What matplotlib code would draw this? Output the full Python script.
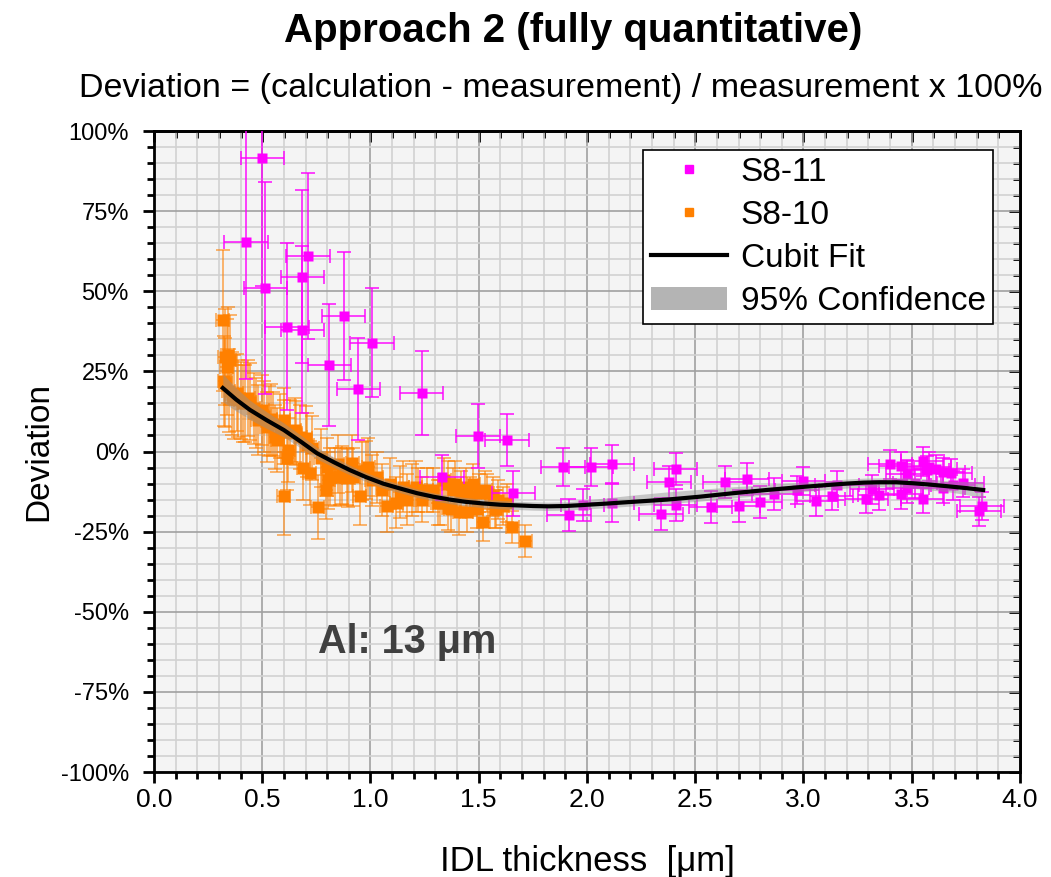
import numpy as np
import matplotlib
matplotlib.use('Agg')
import matplotlib.pyplot as plt
from matplotlib.ticker import MultipleLocator, FuncFormatter
from matplotlib.lines import Line2D
from matplotlib.patches import Patch

plt.rcParams['font.family'] = ['Liberation Sans', 'DejaVu Sans']

# S8-10 (orange): thickness [um], deviation [%], y error [%]
s10_x = [0.318, 0.325, 0.328, 0.336, 0.34, 0.35, 0.33, 0.345, 0.36, 0.37, 0.383, 0.39,
         0.40, 0.41, 0.42, 0.435, 0.443, 0.46, 0.47, 0.48, 0.50, 0.51, 0.52, 0.53,
         0.54, 0.55, 0.56, 0.57, 0.58, 0.60, 0.60, 0.615, 0.62, 0.60, 0.63, 0.65,
         0.655, 0.675, 0.69, 0.70, 0.707, 0.72, 0.73, 0.757, 0.77, 0.795, 0.80, 0.805,
         0.813, 0.836, 0.85, 0.86, 0.87, 0.89, 0.897, 0.915, 0.92, 0.95, 0.96, 0.98,
         0.99, 1.007, 1.03, 1.055, 1.076, 1.09, 1.12, 1.136, 1.15, 1.17, 1.19, 1.21,
         1.22, 1.24, 1.26, 1.29, 1.31, 1.32, 1.34, 1.36, 1.36, 1.37, 1.38, 1.39,
         1.41, 1.42, 1.44, 1.445, 1.46, 1.475, 1.49, 1.50, 1.52, 1.53, 1.54, 1.565,
         1.575, 1.58, 1.59, 1.61, 1.63, 1.655, 1.715]
s10_y = [41, 22, 29.6, 26.5, 30, 28.6, 21.5, 19, 18, 17, 18.3, 16.5,
         16, 15, 15, 16.7, 15.5, 13.5, 12, 9.8, 13, 11, 7.7, 9.5,
         10, 8.5, 4.5, 3.6, 8, 9.8, 6, -2, 0.5, -13.9, 6, 6.7,
         5.7, 4.5, -5.2, 4.2, 2, -6.7, 1, -17.3, -2, -12, -4.8, -9,
         -7.8, -8, -4, -7.8, -7.3, -7.8, -8.3, -3.7, -8, -14, -6, -5.8,
         -4.8, -9, -8, -12, -17, -10, -16, -12.6, -11, -15, -12, -11,
         -12, -15, -12, -12, -16, -16, -9, -10, -17.5, -18, -12, -10,
         -19, -13, -11, -19, -14, -10, -18, -13, -22, -12, -13, -14,
         -18, -18, -15, -17, -16, -23.6, -28]
s10_yerr = [22, 14, 15, 15, 15, 14, 14, 13, 13, 13, 12, 12,
            12, 12, 12, 12, 12, 11, 11, 11, 11, 11, 11, 11,
            11, 10, 10, 10, 10, 10, 10, 10, 10, 12, 10, 10,
            10, 10, 10, 10, 10, 10, 10, 10, 9, 9, 9, 9,
            9, 9, 9, 9, 9, 9, 9, 9, 9, 9, 9, 9,
            9, 8, 8, 8, 8, 8, 8, 8, 8, 8, 8, 8,
            7, 7, 7, 7, 7, 7, 7, 7, 7, 7, 7, 7,
            7, 7, 6, 6, 6, 6, 6, 6, 6, 6, 6, 6,
            6, 6, 6, 6, 6, 5, 5]
s10_xerr = 0.03

# S8-11 (magenta)
s11_x = [0.425, 0.50, 0.515, 0.615, 0.685, 0.712, 0.685, 0.81, 0.877, 0.944, 1.007,
         1.237, 1.33, 1.497, 1.63, 1.66, 1.889, 1.917, 1.98, 2.018, 2.116, 2.115,
         2.342, 2.379, 2.41, 2.41, 2.572, 2.638, 2.70, 2.739, 2.80, 2.864, 2.97,
         3.0, 3.06, 3.13, 3.155, 3.29, 3.316, 3.35, 3.40, 3.45, 3.45, 3.48, 3.48,
         3.515, 3.55, 3.55, 3.57, 3.58, 3.61, 3.645, 3.645, 3.68, 3.69, 3.735,
         3.81, 3.825]
s11_y = [65.5, 91.7, 51, 39, 54.5, 61, 38, 27, 42.3, 19.5, 34,
         18.3, -8, 4.8, 3.6, -13, -4.8, -19.8, -16.7, -4.9, -3.9, -16,
         -19.5, -9.5, -5.5, -16.7, -17.3, -9.5, -17, -8.6, -15.8, -13.3, -12,
         -9.2, -15.5, -13.9, -10.5, -14.8, -11.8, -13.6, -4, -4.5, -13.3, -7, -11.5,
         -9.9, -14.8, -3, -5.8, -4.8, -5.5, -6.4, -11.5, -6.8, -10.5, -9.8,
         -18.6, -17]
s11_yerr = [43, 40, 33, 26, 27, 26, 26, 19, 20, 16, 17,
            13, 7, 10, 8, 7, 6, 5, 5, 6, 6, 6,
            5, 5, 5, 5, 5, 5, 5, 5, 5, 5, 4.5,
            4.5, 4.5, 4.5, 4.5, 4.5, 4.5, 4.5, 4.5, 4.5, 4.5, 4.5, 4.5,
            4.5, 4.5, 4.5, 4.5, 4.5, 4.5, 4.5, 4.5, 4.5, 4.5, 4.5,
            4.5, 4.5]
s11_xerr = 0.1

# cubic fit curve and 95% confidence band
fit_x = [0.318, 0.38, 0.443, 0.52, 0.60, 0.68, 0.752, 0.83, 0.905, 0.98, 1.058,
         1.14, 1.215, 1.29, 1.367, 1.44, 1.52, 1.60, 1.676, 1.75, 1.82, 1.90,
         1.98, 2.10, 2.21, 2.37, 2.52, 2.675, 2.83, 2.985, 3.10, 3.2, 3.28,
         3.353, 3.43, 3.506, 3.58, 3.66, 3.75, 3.83]
fit_y = [19.8, 16.2, 13, 9.8, 6.7, 3, -0.5, -3.3, -5.8, -8, -10,
         -11.6, -13, -14.1, -15, -15.7, -16.2, -16.6, -16.8, -17.0, -17.1, -17.0,
         -16.7, -16.2, -15.7, -15, -14.1, -13, -12, -11.1, -10.5, -10, -9.7,
         -9.6, -9.6, -9.9, -10.3, -10.8, -11.4, -12]
band_lo = [15.5, 12.6, 10, 7.2, 4.5, 1, -2.3, -4.9, -7.3, -9.4, -11.4,
           -12.9, -14.3, -15.3, -16.3, -17, -17.5, -17.9, -18.1, -18.3, -18.4, -18.3,
           -18, -17.5, -17, -16.3, -15.5, -14.5, -13.5, -12.6, -11.9, -11.4, -11.1,
           -11, -11.1, -11.5, -12, -12.5, -13.4, -14.5]
band_hi = [24.2, 19.8, 16, 12.4, 8.9, 5, 1.3, -1.7, -4.3, -6.6, -8.6,
           -10.3, -11.7, -12.9, -13.7, -14.4, -14.9, -15.3, -15.5, -15.7, -15.8, -15.7,
           -15.2, -14.4, -13.6, -12.6, -11.8, -11, -10.3, -9.6, -9.1, -8.6, -8.3,
           -8.2, -8.1, -8.3, -8.6, -9.1, -9.4, -9.5]

fig = plt.figure(figsize=(10.51, 8.77), dpi=100)
ax = fig.add_axes([0.1465, 0.1197, 0.8240, 0.7309])
ax.set_facecolor('#f4f4f4')

ax.errorbar(s10_x, s10_y, yerr=s10_yerr, xerr=s10_xerr, fmt='none', ecolor='#ff8000',
            elinewidth=1.2, capsize=5, capthick=1.2, alpha=0.65, zorder=3)
ax.plot(s10_x, s10_y, 's', color='#ff8000', ms=8, mec='none', zorder=4)
ax.errorbar(s11_x, s11_y, yerr=s11_yerr, xerr=s11_xerr, fmt='none', ecolor='#ff00ff',
            elinewidth=1.3, capsize=5, capthick=1.3, alpha=0.8, zorder=5)
ax.plot(s11_x, s11_y, 's', color='#ff00ff', ms=7, mec='none', zorder=6)

ax.fill_between(fit_x, band_lo, band_hi, color='#909090', alpha=0.45, lw=0, zorder=7)
ax.plot(fit_x, fit_y, color='black', lw=3, zorder=8)

ax.set_xlim(0, 4)
ax.set_ylim(-100, 100)
ax.xaxis.set_major_locator(MultipleLocator(0.5))
ax.xaxis.set_minor_locator(MultipleLocator(0.1))
ax.yaxis.set_major_locator(MultipleLocator(25))
ax.yaxis.set_minor_locator(MultipleLocator(5))
ax.xaxis.set_major_formatter(FuncFormatter(lambda v, p: f'{v:.1f}'))
ax.yaxis.set_major_formatter(FuncFormatter(lambda v, p: f'{int(round(v))}%'))
ax.grid(which='major', color='#a0a0a0', lw=1.2, zorder=0)
ax.grid(which='minor', color='#d2d2d2', lw=1.2, zorder=0)
ax.set_axisbelow(True)

for s in ax.spines.values():
    s.set_linewidth(2)
ax.tick_params(which='both', bottom=True, left=True, top=False, right=False,
               direction='out', width=2, labelsize=19, colors='black')
ax.tick_params(which='major', length=8)
ax.tick_params(which='minor', length=5)
ax.tick_params(axis='y', labelsize=17, pad=10)
# inward ticks on the top and right spines
sec_x = ax.secondary_xaxis('top')
sec_x.xaxis.set_major_locator(MultipleLocator(0.5))
sec_x.xaxis.set_minor_locator(MultipleLocator(0.1))
sec_x.tick_params(which='both', direction='in', width=2, labeltop=False)
sec_x.tick_params(which='major', length=8)
sec_x.tick_params(which='minor', length=5)
sec_y = ax.secondary_yaxis('right')
sec_y.yaxis.set_major_locator(MultipleLocator(25))
sec_y.yaxis.set_minor_locator(MultipleLocator(5))
sec_y.tick_params(which='both', direction='in', width=2, labelright=False)
sec_y.tick_params(which='major', length=8)
sec_y.tick_params(which='minor', length=5)
sec_x.spines['top'].set_linewidth(2)
sec_y.spines['right'].set_linewidth(2)

ax.set_xlabel('IDL thickness  [\u03bcm]', fontsize=25, labelpad=24)
ax.set_ylabel('Deviation', fontsize=24, labelpad=5)

ax.text(0.757, -59.5, 'Al: 13 \u03bcm', fontsize=28.5, fontweight='bold', color='#404040',
        ha='left', va='center', zorder=9)

fig.text(0.545, 0.965, 'Approach 2 (fully quantitative)', fontsize=29, fontweight='bold',
         ha='center', va='center')
fig.text(0.534, 0.899, 'Deviation = (calculation - measurement) / measurement x 100%',
         fontsize=24.5, ha='center', va='center')

handles = [Line2D([], [], marker='s', ls='none', color='#ff00ff', ms=6),
           Line2D([], [], marker='s', ls='none', color='#ff8000', ms=6),
           Line2D([], [], color='black', lw=3),
           Patch(facecolor='#b4b4b4', edgecolor='none')]
labels = ['S8-11', 'S8-10', 'Cubit Fit', '95% Confidence']
leg = ax.legend(handles, labels, loc='upper right', bbox_to_anchor=(0.969, 0.971),
                fontsize=24, frameon=True, fancybox=False, framealpha=1,
                edgecolor='black', handlelength=2.3, handletextpad=0.4,
                labelspacing=0.36, borderpad=0.22, borderaxespad=0)
leg.get_frame().set_linewidth(1.2)
leg.set_zorder(20)

fig.savefig('out.png', dpi=100)
